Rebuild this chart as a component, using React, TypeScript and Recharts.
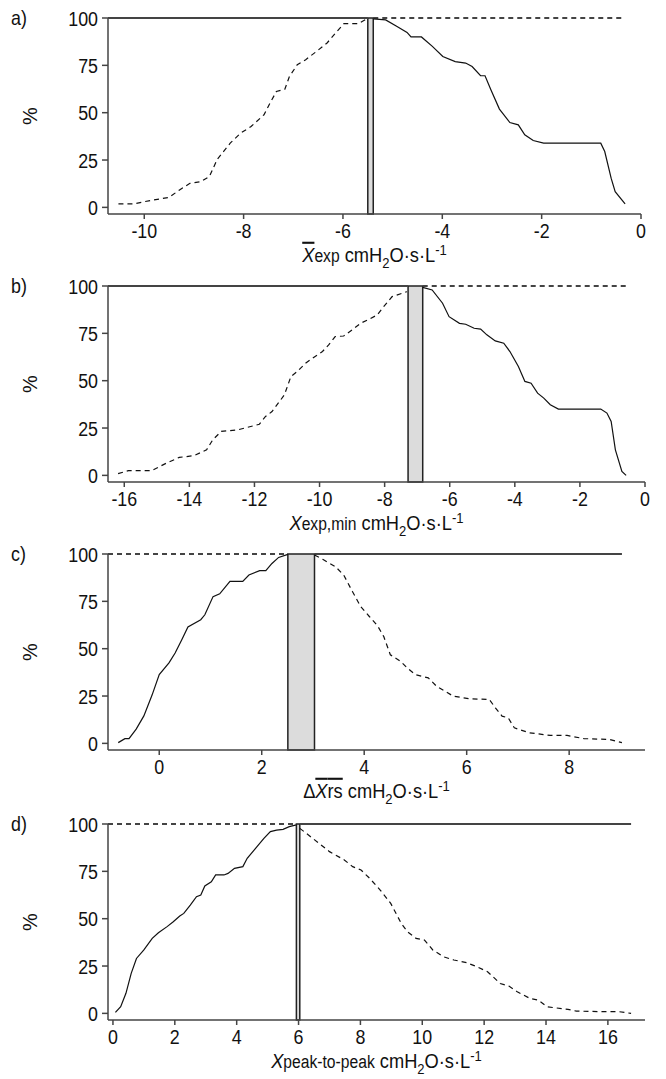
import React from 'react';
import { LineChart, Line, XAxis, YAxis, ReferenceArea } from 'recharts';

// ---- data (x in cmH2O·s·L-1, y in %) ----
const yTicks = [0, 25, 50, 75, 100];

// a) mean Xexp
const aTicks = [-10, -8, -6, -4, -2, 0];
const aRising = [
  { x: -10.52, y: 1.8 }, { x: -10.22, y: 1.8 }, { x: -10.0, y: 3 }, { x: -9.7, y: 4.4 },
  { x: -9.5, y: 5.3 }, { x: -9.29, y: 9.2 }, { x: -9.08, y: 12.7 }, { x: -8.86, y: 13.6 },
  { x: -8.69, y: 16.2 }, { x: -8.53, y: 25.4 }, { x: -8.27, y: 33.9 }, { x: -8.06, y: 39.2 },
  { x: -7.85, y: 42.7 }, { x: -7.59, y: 48.9 }, { x: -7.47, y: 55 }, { x: -7.34, y: 61.2 },
  { x: -7.17, y: 62.4 }, { x: -7.08, y: 69 }, { x: -6.92, y: 75.3 }, { x: -6.75, y: 78 },
  { x: -6.53, y: 82.4 }, { x: -6.32, y: 86.8 }, { x: -6.15, y: 92 }, { x: -5.98, y: 97 },
  { x: -5.69, y: 97 }, { x: -5.52, y: 99.6 },
];
const aFalling = [
  { x: -5.39, y: 99.5 }, { x: -5.14, y: 99 }, { x: -4.92, y: 95.6 }, { x: -4.71, y: 92.4 },
  { x: -4.63, y: 90 }, { x: -4.42, y: 90 }, { x: -4.2, y: 85 }, { x: -3.99, y: 79.7 },
  { x: -3.74, y: 77 }, { x: -3.53, y: 76.2 }, { x: -3.4, y: 74.4 }, { x: -3.23, y: 69.5 },
  { x: -3.14, y: 69.5 }, { x: -3.02, y: 62 }, { x: -2.85, y: 51.9 }, { x: -2.64, y: 44.8 },
  { x: -2.47, y: 43.6 }, { x: -2.34, y: 38.3 }, { x: -2.17, y: 35.3 }, { x: -1.96, y: 33.9 },
  { x: -0.81, y: 33.9 }, { x: -0.73, y: 29.5 }, { x: -0.6, y: 15.3 }, { x: -0.52, y: 8.3 },
  { x: -0.32, y: 1.8 },
];
const aBand = [-5.5, -5.39];

// b) Xexp,min
const bTicks = [-16, -14, -12, -10, -8, -6, -4, -2, 0];
const bRising = [
  { x: -16.19, y: 0.9 }, { x: -15.87, y: 2.5 }, { x: -15.16, y: 2.5 }, { x: -14.7, y: 6.5 },
  { x: -14.31, y: 9.5 }, { x: -13.86, y: 10.4 }, { x: -13.47, y: 13.5 }, { x: -13.28, y: 18.8 },
  { x: -13.02, y: 23.2 }, { x: -12.5, y: 24.1 }, { x: -11.85, y: 27 }, { x: -11.66, y: 31.1 },
  { x: -11.46, y: 33.7 }, { x: -11.27, y: 38.1 }, { x: -11.08, y: 42.5 }, { x: -10.88, y: 52.2 },
  { x: -10.69, y: 54.8 }, { x: -10.43, y: 59.2 }, { x: -10.17, y: 62.4 }, { x: -9.91, y: 65.4 },
  { x: -9.72, y: 68.9 }, { x: -9.52, y: 73.3 }, { x: -9.26, y: 73.6 }, { x: -9.0, y: 76.8 },
  { x: -8.74, y: 80.3 }, { x: -8.48, y: 82.4 }, { x: -8.23, y: 84.7 }, { x: -8.03, y: 89.1 },
  { x: -7.77, y: 94.4 }, { x: -7.32, y: 97 },
];
const bFalling = [
  { x: -6.83, y: 99.3 }, { x: -6.54, y: 97.9 }, { x: -6.22, y: 90.9 }, { x: -6.02, y: 83.8 },
  { x: -5.7, y: 80.3 }, { x: -5.51, y: 79.8 }, { x: -5.25, y: 77.7 }, { x: -5.05, y: 77.2 },
  { x: -4.86, y: 74.2 }, { x: -4.6, y: 71 }, { x: -4.34, y: 69.8 }, { x: -4.15, y: 65.4 },
  { x: -3.89, y: 57.5 }, { x: -3.69, y: 49.6 }, { x: -3.5, y: 48.7 }, { x: -3.3, y: 43.4 },
  { x: -3.11, y: 40.8 }, { x: -2.91, y: 37.3 }, { x: -2.66, y: 35 }, { x: -1.36, y: 35 },
  { x: -1.17, y: 32.9 }, { x: -1.04, y: 28.5 }, { x: -0.91, y: 13.5 }, { x: -0.71, y: 2.1 },
  { x: -0.58, y: 0 },
];
const bBand = [-7.28, -6.83];

// c) delta mean Xrs
const cTicks = [0, 2, 4, 6, 8];
const cRising = [
  { x: -0.8, y: 0.4 }, { x: -0.67, y: 2.5 }, { x: -0.59, y: 2.5 }, { x: -0.45, y: 7.5 },
  { x: -0.3, y: 14.5 }, { x: -0.14, y: 25.5 }, { x: 0, y: 36.3 }, { x: 0.19, y: 42.5 },
  { x: 0.31, y: 47.7 }, { x: 0.44, y: 54.7 }, { x: 0.56, y: 61.5 }, { x: 0.81, y: 65.3 },
  { x: 0.89, y: 67.9 }, { x: 1.05, y: 77.5 }, { x: 1.18, y: 79 }, { x: 1.38, y: 85.5 },
  { x: 1.63, y: 85.5 }, { x: 1.75, y: 88.9 }, { x: 1.96, y: 91.2 }, { x: 2.08, y: 91.2 },
  { x: 2.2, y: 95 }, { x: 2.33, y: 98.2 }, { x: 2.51, y: 99.8 },
];
const cFalling = [
  { x: 3.03, y: 99.5 }, { x: 3.19, y: 97.2 }, { x: 3.44, y: 93.3 }, { x: 3.6, y: 88.9 },
  { x: 3.77, y: 80.2 }, { x: 3.93, y: 72.3 }, { x: 4.1, y: 67 }, { x: 4.26, y: 62.1 },
  { x: 4.38, y: 56.5 }, { x: 4.51, y: 46.8 }, { x: 4.71, y: 43.3 }, { x: 4.84, y: 39.8 },
  { x: 5.0, y: 36.3 }, { x: 5.25, y: 34.6 }, { x: 5.41, y: 30.2 }, { x: 5.58, y: 27.5 },
  { x: 5.74, y: 24.9 }, { x: 6.07, y: 23.5 }, { x: 6.44, y: 23.2 }, { x: 6.56, y: 18.8 },
  { x: 6.69, y: 14.4 }, { x: 6.81, y: 13.5 }, { x: 6.93, y: 8.2 }, { x: 7.22, y: 5.6 },
  { x: 7.63, y: 4.2 }, { x: 7.96, y: 4.2 }, { x: 8.29, y: 2.5 }, { x: 8.78, y: 2.1 },
  { x: 9.03, y: 0.4 },
];
const cBand = [2.51, 3.03];

// d) Xpeak-to-peak
const dTicks = [0, 2, 4, 6, 8, 10, 12, 14, 16];
const dRising = [
  { x: 0.08, y: 0.5 }, { x: 0.25, y: 3.5 }, { x: 0.42, y: 10.6 }, { x: 0.59, y: 21.1 },
  { x: 0.76, y: 29 }, { x: 1.0, y: 33.5 }, { x: 1.27, y: 39.6 }, { x: 1.47, y: 42.6 },
  { x: 1.75, y: 45.8 }, { x: 1.95, y: 48.4 }, { x: 2.16, y: 51.4 }, { x: 2.29, y: 52.8 },
  { x: 2.5, y: 57.2 }, { x: 2.7, y: 61.6 }, { x: 2.84, y: 62.5 }, { x: 2.97, y: 67.3 },
  { x: 3.18, y: 69.5 }, { x: 3.32, y: 73.1 }, { x: 3.59, y: 73.1 }, { x: 3.72, y: 73.9 },
  { x: 3.93, y: 76.6 }, { x: 4.2, y: 77.5 }, { x: 4.34, y: 81.9 }, { x: 4.61, y: 87.1 },
  { x: 4.88, y: 92.4 }, { x: 5.09, y: 96 }, { x: 5.29, y: 96.8 }, { x: 5.5, y: 97.2 },
  { x: 5.7, y: 98.6 }, { x: 5.93, y: 99.5 },
];
const dFalling = [
  { x: 6.04, y: 97.7 }, { x: 6.32, y: 94.2 }, { x: 6.66, y: 89.8 }, { x: 7.0, y: 85.4 },
  { x: 7.2, y: 83.6 }, { x: 7.48, y: 81 }, { x: 7.75, y: 77.5 }, { x: 8.02, y: 75.7 },
  { x: 8.3, y: 71.3 }, { x: 8.64, y: 65.1 }, { x: 8.98, y: 58.1 }, { x: 9.32, y: 47.5 },
  { x: 9.52, y: 43.1 }, { x: 9.8, y: 39.6 }, { x: 10.07, y: 38.7 }, { x: 10.34, y: 33.5 },
  { x: 10.68, y: 29.9 }, { x: 11.02, y: 28.2 }, { x: 11.43, y: 26.8 }, { x: 11.77, y: 24.6 },
  { x: 12.11, y: 22 }, { x: 12.52, y: 15.8 }, { x: 12.8, y: 14.4 }, { x: 13.07, y: 11.4 },
  { x: 13.48, y: 7.9 }, { x: 13.75, y: 7 }, { x: 14.03, y: 3.5 }, { x: 14.71, y: 2.1 },
  { x: 14.98, y: 1.2 }, { x: 15.8, y: 0.9 }, { x: 16.35, y: 0.9 }, { x: 16.75, y: 0 },
];
const dBand = [5.93, 6.04];

const FONT = '"Liberation Sans", Arial, Helvetica, sans-serif';
const SQUEEZE = 0.85; // the original uses a slightly condensed face
const FS = 21;
const INK = '#111';
const AXIS = '#444';
const Y_MIN = -3.5;

type Pt = { x: number; y: number };

const XTick = (p: any) => (
  <text transform={`translate(${p.x},${p.y}) scale(${SQUEEZE},1)`} textAnchor="middle" dy="0.72em" fill={INK} fontSize={FS} fontFamily={FONT}>
    {p.payload.value}
  </text>
);

const YTick = (p: any) => (
  <text transform={`translate(${p.x},${p.y}) scale(${SQUEEZE},1)`} textAnchor="end" dy="0.36em" fill={INK} fontSize={FS} fontFamily={FONT}>
    {p.payload.value}
  </text>
);

const PctLabel = (p: any) => {
  const vb = p.viewBox;
  return (
    <text transform={`translate(30,${vb.y + vb.height / 2}) rotate(-90)`} textAnchor="middle" dy="0.36em" fill={INK} fontSize={FS - 1} fontFamily={FONT}>
      %
    </text>
  );
};

interface PanelProps {
  tag: string;
  top: number;
  domain: [number, number];
  ticks: number[];
  rightMargin: number;
  rising: Pt[];
  falling: Pt[];
  band: number[];
  risingDashed: boolean;
  label: React.ReactNode;
}

const Panel: React.FC<PanelProps> = ({ tag, top, domain, ticks, rightMargin, rising, falling, band, risingDashed, label }) => {
  // 100% plateau on each side of the band
  const leftTop = [{ x: domain[0], y: 100 }, { x: band[0], y: 100 }];
  const rightTop = [{ x: band[1], y: 100 }, { x: falling[falling.length - 1].x, y: 100 }];
  const dash = '5 4';

  return (
    <div style={{ position: 'absolute', left: 0, top }}>
      <LineChart width={666} height={274} margin={{ top: 20, right: rightMargin, bottom: 0, left: 0 }}>
        <text transform={`translate(11,27) scale(${SQUEEZE},1)`} fill={INK} fontSize={FS} fontFamily={FONT}>{tag}</text>
        <XAxis
          type="number"
          dataKey="x"
          domain={domain}
          ticks={ticks}
          interval={0}
          height={58}
          stroke={AXIS}
          strokeWidth={1.5}
          tickSize={5}
          tickMargin={4}
          tick={<XTick />}
          label={{
            content: (p: any) => {
              const vb = p.viewBox;
              return (
                <text transform={`translate(${vb.x + vb.width / 2},${vb.y + 48}) scale(${SQUEEZE + 0.02},1)`} textAnchor="middle" fill={INK} fontSize={FS} fontFamily={FONT}>
                  {label}
                </text>
              );
            },
          }}
        />
        <YAxis
          type="number"
          domain={[Y_MIN, 100]}
          ticks={yTicks}
          interval={0}
          width={108}
          stroke={AXIS}
          strokeWidth={1.5}
          tickSize={6}
          tickMargin={4}
          tick={<YTick />}
          label={{ content: (p: any) => <PctLabel {...p} /> }}
        />
        <ReferenceArea x1={band[0]} x2={band[1]} y1={Y_MIN} y2={100} fill="#dcdcdc" fillOpacity={1} stroke="#222" strokeWidth={1.5} />
        <Line data={leftTop} dataKey="y" stroke={AXIS} strokeWidth={1.8} strokeDasharray={risingDashed ? undefined : dash} dot={false} isAnimationActive={false} />
        <Line data={rightTop} dataKey="y" stroke={AXIS} strokeWidth={1.8} strokeDasharray={risingDashed ? dash : undefined} dot={false} isAnimationActive={false} />
        <Line data={rising} dataKey="y" stroke={INK} strokeWidth={1.2} strokeDasharray={risingDashed ? dash : undefined} dot={false} isAnimationActive={false} />
        <Line data={falling} dataKey="y" stroke={INK} strokeWidth={1.2} strokeDasharray={risingDashed ? undefined : dash} dot={false} isAnimationActive={false} />
      </LineChart>
    </div>
  );
};

const unit = (
  <>
    <tspan> cmH</tspan>
    <tspan fontSize={15} dy={6}>2</tspan>
    <tspan dy={-6}>O·s·L</tspan>
    <tspan fontSize={15} dy={-7}>-1</tspan>
  </>
);

const App: React.FC = () => (
  <div style={{ position: 'absolute', left: 0, top: 0, width: 666, height: 1079, background: '#fff' }}>
    <Panel
      tag="a)"
      top={-2}
      domain={[-10.73, 0]}
      ticks={aTicks}
      rightMargin={25}
      rising={aRising}
      falling={aFalling}
      band={aBand}
      risingDashed={true}
      label={<><tspan fontStyle="italic" textDecoration="overline">X</tspan><tspan fontSize={18}>exp</tspan>{unit}</>}
    />
    <Panel
      tag="b)"
      top={266}
      domain={[-16.5, 0]}
      ticks={bTicks}
      rightMargin={21}
      rising={bRising}
      falling={bFalling}
      band={bBand}
      risingDashed={true}
      label={<><tspan fontStyle="italic">X</tspan><tspan fontSize={18}>exp,min</tspan>{unit}</>}
    />
    <Panel
      tag="c)"
      top={534}
      domain={[-1.0, 9.48]}
      ticks={cTicks}
      rightMargin={21}
      rising={cRising}
      falling={cFalling}
      band={cBand}
      risingDashed={false}
      label={<><tspan>Δ</tspan><tspan fontStyle="italic" textDecoration="overline">X</tspan><tspan textDecoration="overline">rs</tspan>{unit}</>}
    />
    <Panel
      tag="d)"
      top={804}
      domain={[-0.16, 17.2]}
      ticks={dTicks}
      rightMargin={21}
      rising={dRising}
      falling={dFalling}
      band={dBand}
      risingDashed={false}
      label={<><tspan fontStyle="italic">X</tspan><tspan fontSize={18}>peak-to-peak</tspan>{unit}</>}
    />
  </div>
);

export default App;
